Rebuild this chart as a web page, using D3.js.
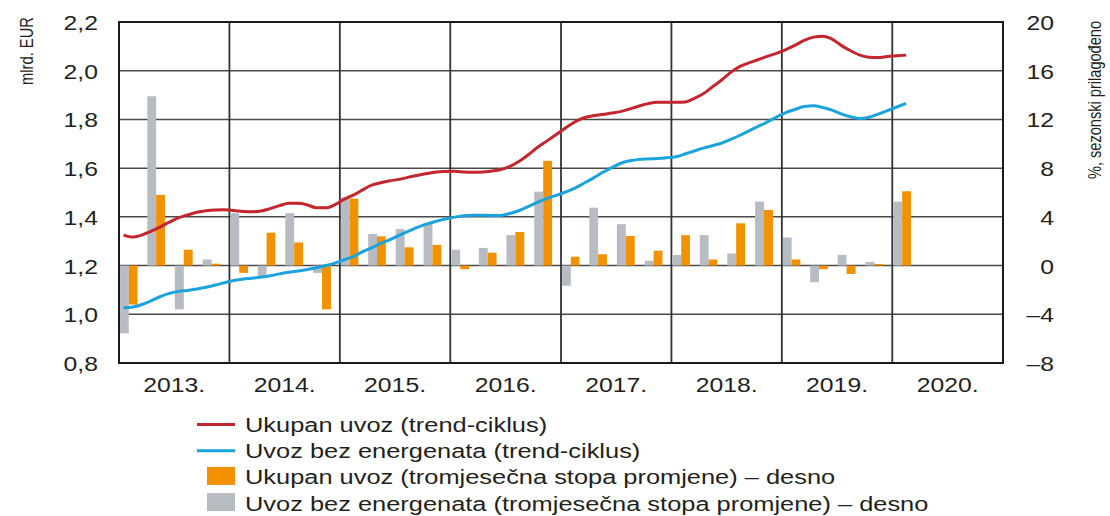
<!DOCTYPE html>
<html>
<head>
<meta charset="utf-8">
<script src="https://cdn.jsdelivr.net/npm/d3@7"></script>
<style>
    body { margin: 0; background: #fff; }
    svg { display: block; }
</style>
</head>
<body>
<div id="chart"></div>
<script>
// years on the x axis
const years = ["2013.", "2014.", "2015.", "2016.", "2017.", "2018.", "2019.", "2020."];
const leftTicks = [0.8, 1.0, 1.2, 1.4, 1.6, 1.8, 2.0, 2.2];
const rightTicks = [-8, -4, 0, 4, 8, 12, 16, 20];

// monthly trend-cycle, mlrd. EUR, Jan 2013 - Feb 2020
const ukupanTrend = [
    1.325, 1.317, 1.325, 1.340, 1.358, 1.378, 1.396, 1.408, 1.419, 1.425, 1.428, 1.429,
    1.426, 1.422, 1.421, 1.424, 1.434, 1.446, 1.456, 1.456, 1.449, 1.437, 1.437, 1.450,
    1.473, 1.490, 1.510, 1.530, 1.540, 1.548, 1.554, 1.563, 1.571, 1.578, 1.584, 1.586,
    1.587, 1.584, 1.583, 1.584, 1.588, 1.594, 1.607, 1.628, 1.656, 1.686, 1.712, 1.738,
    1.765, 1.790, 1.806, 1.815, 1.820, 1.826, 1.832, 1.843, 1.855, 1.865, 1.871, 1.871,
    1.871, 1.872, 1.885, 1.905, 1.933, 1.962, 1.993, 2.018, 2.033, 2.046, 2.060, 2.072,
    2.088, 2.106, 2.125, 2.138, 2.142, 2.130, 2.104, 2.082, 2.064, 2.055, 2.054, 2.058,
    2.061, 2.064
];
const bezEnergTrend = [
    1.027, 1.030, 1.039, 1.055, 1.072, 1.086, 1.094, 1.098, 1.104, 1.111, 1.120, 1.130,
    1.139, 1.145, 1.148, 1.153, 1.158, 1.166, 1.173, 1.178, 1.184, 1.191, 1.200, 1.210,
    1.224, 1.238, 1.256, 1.273, 1.291, 1.307, 1.324, 1.341, 1.358, 1.371, 1.382, 1.391,
    1.399, 1.405, 1.407, 1.407, 1.406, 1.406, 1.414, 1.426, 1.443, 1.460, 1.476, 1.488,
    1.502, 1.518, 1.537, 1.558, 1.581, 1.601, 1.619, 1.630, 1.636, 1.638, 1.640, 1.643,
    1.647, 1.659, 1.670, 1.682, 1.692, 1.703, 1.718, 1.735, 1.754, 1.772, 1.791, 1.811,
    1.829, 1.842, 1.853, 1.856, 1.849, 1.838, 1.823, 1.811, 1.804, 1.809, 1.822, 1.836,
    1.851, 1.866
];

// quarterly three-month rate of change, %, Q1 2013 - Q1 2020 (right axis)
const ukupanStopa = [
    -3.2, 5.8, 1.3, 0.15,
    -0.6, 2.7, 1.9, -3.6,
    5.5, 2.4, 1.5, 1.7,
    -0.3, 1.06, 2.76, 8.6,
    0.73, 0.93, 2.43, 1.22,
    2.5, 0.5, 3.47, 4.56,
    0.5, -0.3, -0.69, 0.13,
    6.1
];
const bezEnergStopa = [
    -5.56, 13.9, -3.6, 0.5,
    4.3, -0.85, 4.3, -0.6,
    5.6, 2.6, 3.0, 3.5,
    1.3, 1.45, 2.5, 6.07,
    -1.65, 4.75, 3.4, 0.4,
    0.87, 2.5, 1.0, 5.25,
    2.3, -1.37, 0.87, 0.3,
    5.25
];

const legendLabels = [
    "Ukupan uvoz (trend-ciklus)",
    "Uvoz bez energenata (trend-ciklus)",
    "Ukupan uvoz (tromjesečna stopa promjene) – desno",
    "Uvoz bez energenata (tromjesečna stopa promjene) – desno"
];

var colors = { red: "#c4262e", blue: "#1aa3dc", orange: "#f39200", gray: "#b6bcc2" };
var legendKinds = [
    { type: "line", color: colors.red },
    { type: "line", color: colors.blue },
    { type: "box", color: colors.orange },
    { type: "box", color: colors.gray }
];

var width = 1110;
var height = 516;
var plot = { left: 119, right: 1003, top: 22, bottom: 363 };
var stretch = 1.27; // the original lettering is wide

var svg = d3.select("#chart")
    .append("svg")
    .attr("width", width)
    .attr("height", height);

// scales
var x = d3.scaleTime()
    .domain([new Date(2013, 0, 1), new Date(2021, 0, 1)])
    .range([plot.left, plot.right]);

var yLeft = d3.scaleLinear()
    .domain([0.8, 2.2])
    .range([plot.bottom, plot.top]);

var yRight = d3.scaleLinear()
    .domain([-8, 20])
    .range([plot.bottom, plot.top]);

var font = "'Liberation Sans', Arial, sans-serif";
var textColor = "#231f20";

// horizontal grid
svg.append("g")
    .selectAll("line")
    .data(leftTicks)
    .enter().append("line")
    .attr("x1", plot.left)
    .attr("x2", plot.right)
    .attr("y1", d => yLeft(d))
    .attr("y2", d => yLeft(d))
    .attr("stroke", "#4a4a4a")
    .attr("stroke-width", 1.5);

// vertical year lines
svg.append("g")
    .selectAll("line")
    .data(years)
    .enter().append("line")
    .attr("x1", (d, i) => x(new Date(2013 + i, 0, 1)))
    .attr("x2", (d, i) => x(new Date(2013 + i, 0, 1)))
    .attr("y1", plot.top)
    .attr("y2", plot.bottom)
    .attr("stroke", "#333")
    .attr("stroke-width", 1.8);

// bars
var quarterStart = i => new Date(2013, i * 3, 1);
var quarterWidth = i => x(new Date(2013, i * 3 + 3, 1)) - x(quarterStart(i));

function drawBars(values, shift, color) {
    svg.append("g")
        .selectAll("rect")
        .data(values)
        .enter().append("rect")
        .attr("x", (d, i) => x(quarterStart(i)) + quarterWidth(i) * (0.04 + shift))
        .attr("width", (d, i) => quarterWidth(i) * 0.32)
        .attr("y", d => yRight(Math.max(0, d)))
        .attr("height", d => Math.abs(yRight(d) - yRight(0)))
        .attr("fill", color);
}
drawBars(bezEnergStopa, 0, colors.gray);
drawBars(ukupanStopa, 0.32, colors.orange);

// trend lines
var monthDate = i => new Date(2013, i, 16);
var line = d3.line()
    .x((d, i) => x(monthDate(i)))
    .y(d => yLeft(d))
    .curve(d3.curveMonotoneX);

svg.append("path")
    .datum(bezEnergTrend)
    .attr("d", line)
    .attr("fill", "none")
    .attr("stroke", colors.blue)
    .attr("stroke-width", 3);

svg.append("path")
    .datum(ukupanTrend)
    .attr("d", line)
    .attr("fill", "none")
    .attr("stroke", colors.red)
    .attr("stroke-width", 3);

// frame
svg.append("rect")
    .attr("x", plot.left)
    .attr("y", plot.top)
    .attr("width", plot.right - plot.left)
    .attr("height", plot.bottom - plot.top)
    .attr("fill", "none")
    .attr("stroke", "#1a1a1a")
    .attr("stroke-width", 2);

// wide text helper
function wideText(parent, px, py, anchor, size, str) {
    return parent.append("text")
        .attr("transform", "translate(" + px + "," + py + ") scale(" + stretch + ",1)")
        .attr("text-anchor", anchor)
        .style("font-family", font)
        .style("font-size", size + "px")
        .style("fill", textColor)
        .text(str);
}

// left axis labels
leftTicks.forEach(function (d) {
    wideText(svg, 98, yLeft(d) + 8, "end", 19.5, d.toFixed(1).replace(".", ","));
});

// right axis labels
rightTicks.forEach(function (d) {
    wideText(svg, 1054, yRight(d) + 8, "end", 19.5, d < 0 ? "–" + Math.abs(d) : String(d));
});

// year labels
years.forEach(function (d, i) {
    var mid = (x(new Date(2013 + i, 0, 1)) + x(new Date(2014 + i, 0, 1))) / 2;
    wideText(svg, mid, 392, "middle", 19.5, d);
});

// axis titles (rotated, so the stretch goes across the letters)
svg.append("text")
    .attr("transform", "translate(33,51) rotate(-90) scale(1," + stretch + ")")
    .attr("text-anchor", "middle")
    .style("font-family", font)
    .style("font-size", "14.7px")
    .style("fill", textColor)
    .text("mlrd. EUR");

svg.append("text")
    .attr("transform", "translate(1101,100) rotate(-90) scale(1," + stretch + ")")
    .attr("text-anchor", "middle")
    .style("font-family", font)
    .style("font-size", "14.6px")
    .style("fill", textColor)
    .text("%, sezonski prilagođeno");

// legend
legendLabels.forEach(function (label, i) {
    var base = 432 + i * 26.2;
    var kind = legendKinds[i];
    if (kind.type === "line") {
        svg.append("line")
            .attr("x1", 197)
            .attr("x2", 235)
            .attr("y1", base - 7.5)
            .attr("y2", base - 7.5)
            .attr("stroke", kind.color)
            .attr("stroke-width", 3);
    } else {
        svg.append("rect")
            .attr("x", 207)
            .attr("y", base - 17.5)
            .attr("width", 28)
            .attr("height", 18)
            .attr("fill", kind.color);
    }
    wideText(svg, 245, base, "start", 20, label);
});
</script>
</body>
</html>
